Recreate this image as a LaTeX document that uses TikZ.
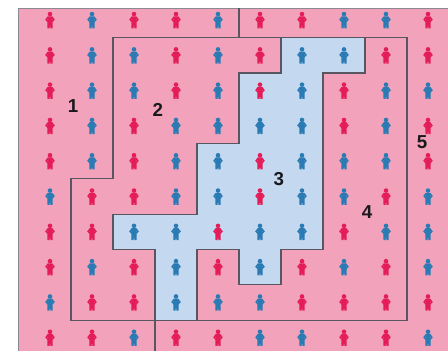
\documentclass[tikz,border=0pt]{standalone}
\usepackage{fontspec}
\setmainfont{Liberation Sans}
\usepackage{xcolor}
\usepackage{tikz}
\definecolor{groundpink}{RGB}{242, 162, 186}
\definecolor{zoneblue}{RGB}{196, 216, 240}
\definecolor{figR}{RGB}{228, 28, 88}
\definecolor{figB}{RGB}{42, 122, 180}
\definecolor{borderline}{RGB}{88, 86, 96}
\definecolor{labelink}{RGB}{25, 25, 30}

\tikzset{
  person/.pic={
    \begin{scope}[x=0.03cm, y=-0.03cm]
      \fill (0,-6.0) circle[radius=2.3];
      \fill[even odd rule] (-2.3,-3.8) -- (2.3,-3.8) -- (4.8,-0.4) -- (2.6,2.0) -- (2.5,8.2) -- (0.4,8.2) -- (0,3.6) -- (-0.4,8.2) -- (-2.5,8.2) -- (-2.6,2.0) -- (-4.8,-0.4) -- cycle
        (2.6,-1.4) -- (3.3,-0.4) -- (2.6,0.6) -- cycle
        (-2.6,-1.4) -- (-3.3,-0.4) -- (-2.6,0.6) -- cycle;
    \end{scope}
  }
}

\begin{document}
\begin{tikzpicture}[
  x=1.26cm, y=-1.059cm,
  border/.style={draw=borderline, line width=1pt},
  zone/.style={fill=zoneblue, draw=borderline, line width=1pt},
  edge/.style={draw=borderline!70, line width=0.5pt},
  number/.style={font=\fontsize{16}{16}\selectfont\bfseries, text=labelink, inner sep=0pt}
]
\useasboundingbox (-0.6905,-0.068) rectangle (9.976,9.875);

% Ground
\fill[groundpink] (-0.262,0.159) rectangle (9.976,9.875);
\draw[edge] (-0.262,9.875) -- (-0.262,0.159) -- (9.976,0.159);

% Zone 3 (blue cells)
\draw[zone] (6,1) -- (8,1) -- (8,2) -- (7,2) -- (7,7) -- (6,7) -- (6,8) -- (5,8) -- (5,7) -- (4,7) -- (4,9) -- (3,9) -- (3,7) -- (2,7) -- (2,6) -- (4,6) -- (4,4) -- (5,4) -- (5,2) -- (6,2) -- cycle;

% Zone borders
\draw[border] (2,1) -- (9,1) -- (9,9) -- (1,9) -- (1,5) -- (2,5) -- cycle;
\draw[border] (5,0.159) -- (5,1);
\draw[border] (3,9) -- (3,9.875);

% People, row by row
\foreach \row [count=\r from 0] in {
  {R,B,R,R,B,R,R,B,B,R},
  {R,B,B,R,B,R,B,B,R,R},
  {R,B,B,R,B,R,B,R,B,B},
  {R,B,R,B,B,B,B,R,B,R},
  {R,B,R,B,B,R,B,B,B,R},
  {B,R,R,B,B,R,B,B,R,B},
  {R,R,B,B,R,B,B,R,B,B},
  {R,B,R,B,R,B,R,B,R,B},
  {B,R,R,B,B,B,R,R,R,R},
  {R,R,B,R,R,B,B,R,R,B}}{
  \foreach \col [count=\c from 0] in \row {
    \pic[fill=fig\col] at (\c+0.5,\r+0.5) {person};
  }
}

% Zone numbers
\node[number] (lab1) at (1.05,2.93) {1};
\node[number] (lab2) at (3.07,3.05) {2};
\node[number] (lab3) at (5.95,5.0) {3};
\node[number] (lab4) at (8.05,5.93) {4};
\node[number] (lab5) at (9.36,3.95) {5};

\end{tikzpicture}
\end{document}
